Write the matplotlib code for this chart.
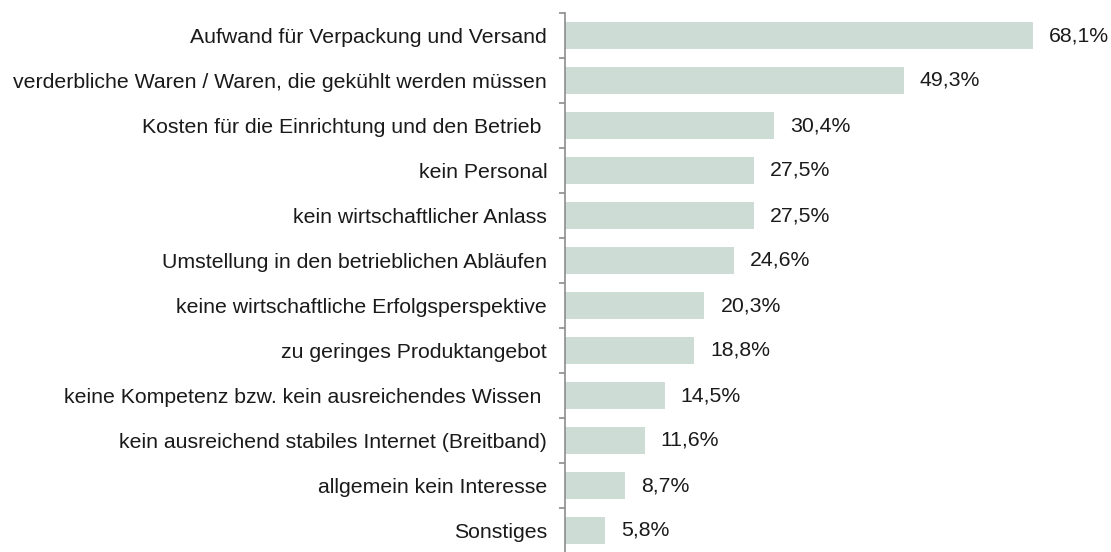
import matplotlib
matplotlib.use('Agg')
import matplotlib.pyplot as plt
import numpy as np

# categories, top to bottom
categories = [
    'Aufwand für Verpackung und Versand',
    'verderbliche Waren / Waren, die gekühlt werden müssen',
    'Kosten für die Einrichtung und den Betrieb ',
    'kein Personal',
    'kein wirtschaftlicher Anlass',
    'Umstellung in den betrieblichen Abläufen',
    'keine wirtschaftliche Erfolgsperspektive',
    'zu geringes Produktangebot',
    'keine Kompetenz bzw. kein ausreichendes Wissen ',
    'kein ausreichend stabiles Internet (Breitband)',
    'allgemein kein Interesse',
    'Sonstiges',
]
values = [68.1, 49.3, 30.4, 27.5, 27.5, 24.6, 20.3, 18.8, 14.5, 11.6, 8.7, 5.8]

plt.rcParams['font.family'] = ['Liberation Sans', 'DejaVu Sans']

W, H = 1111, 552
fig = plt.figure(figsize=(W / 100, H / 100), dpi=100)
# axes placed in pixel terms: spine at x=565, rows from y=13 to y=553
ax = fig.add_axes([565 / W, -1 / H, (W - 565) / W, 540 / H])

n = len(categories)
y = np.arange(n)[::-1]
ax.barh(y, values, height=0.6, color='#cddcd5', zorder=2)

for yi, v in zip(y, values):
    ax.annotate(f'{v:.1f}%'.replace('.', ','), (v, yi), xytext=(11.5, 0),
                textcoords='offset points', va='center', ha='left',
                fontsize=15.3, color='#1a1a1a')

ax.set_ylim(-0.5, n - 0.5)
ax.set_xlim(0, 79.5)

ax.set_yticks(y)
ax.set_yticklabels(categories, fontsize=15.3, color='#1a1a1a')
ax.tick_params(axis='y', which='major', length=0, pad=12.8)
ax.set_yticks(np.arange(n + 1) - 0.5, minor=True)
ax.tick_params(axis='y', which='minor', length=4.3, width=1.2, color='#8c8c8c', direction='out')

ax.set_xticks([])
for s in ['top', 'right', 'bottom']:
    ax.spines[s].set_visible(False)
ax.spines['left'].set_color('#8c8c8c')
ax.spines['left'].set_linewidth(1.2)

fig.savefig('out.png', dpi=100)
